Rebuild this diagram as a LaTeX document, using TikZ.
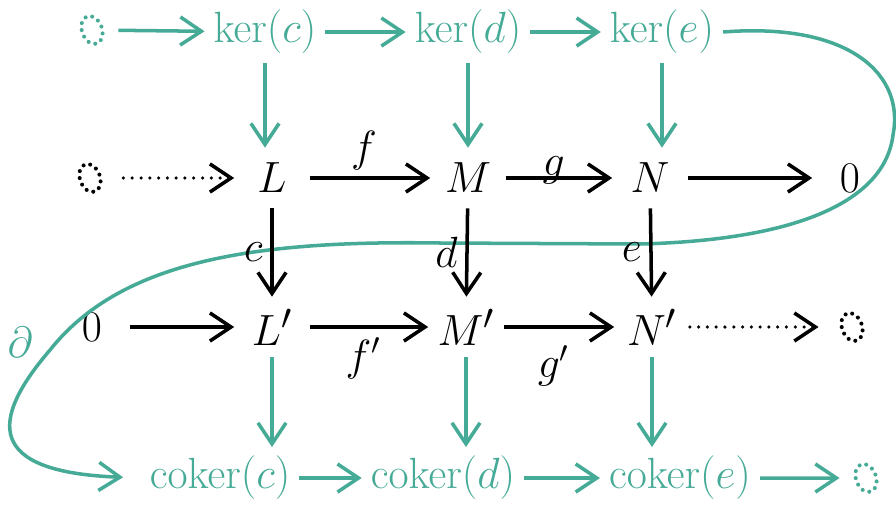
\documentclass[tikz,border=0pt]{standalone}
\usepackage{amsmath, amssymb}
\usepackage{tikz}
\usetikzlibrary{arrows.meta, shapes.geometric}

\definecolor{snakegreen}{RGB}{69,170,150}

\tikzset{
    obj/.style={minimum width=1.5cm, minimum height=1.2cm, inner sep=0pt,
        font=\fontsize{30}{36}\selectfont},
    gobj/.style={text=snakegreen, inner sep=5pt, font=\fontsize{23}{28}\selectfont},
    lbl/.style={font=\fontsize{26}{30}\selectfont},
    arr/.style={line width=2pt, -{Straight Barb[length=12pt, width=16pt]}},
    garr/.style={arr, snakegreen},
    dotarr/.style={arr, line cap=round, dash pattern=on 0pt off 5pt},
    dotzero/.style={ellipse, draw, line width=2.3pt, line cap=round,
        dash pattern=on 0pt off 4pt, minimum width=0.4cm, minimum height=0.58cm,
        inner sep=0pt, rotate=20},
}

\begin{document}
\begin{tikzpicture}[x=0.02cm, y=-0.02cm]
    \useasboundingbox (0, 0) rectangle (896, 504);

    % Kernels
    \node[dotzero, snakegreen] (kz) at (92, 30) {};
    \node[gobj] (kerc) at (265, 32) {$\ker(c)$};
    \node[gobj] (kerd) at (468, 32) {$\ker(d)$};
    \node[gobj] (kere) at (662, 32) {$\ker(e)$};

    % Top row
    \node[dotzero] (tz) at (90, 178) {};
    \node[obj] (L) at (272, 178) {$L$};
    \node[obj] (M) at (468, 178) {$M$};
    \node[obj] (N) at (650, 178) {$N$};
    \node[obj] (O) at (850, 178) {$0$};

    % Bottom row
    \node[obj] (Op) at (92, 327) {$0$};
    \node[obj] (Lp) at (272, 327) {$L'$};
    \node[obj] (Mp) at (466, 327) {$M'$};
    \node[obj] (Np) at (652, 327) {$N'$};
    \node[dotzero] (bz) at (852, 327) {};

    % Cokernels
    \node[gobj] (cokc) at (220, 478) {$\operatorname{coker}(c)$};
    \node[gobj] (cokd) at (443, 478) {$\operatorname{coker}(d)$};
    \node[gobj] (coke) at (680, 478) {$\operatorname{coker}(e)$};
    \node[dotzero, snakegreen] (cz) at (866, 478) {};

    % The snake
    \draw[garr, shorten >=10pt] (kere.east) .. controls (850, 22) and (905, 75) .. (893, 135)
        .. controls (885, 200) and (800, 240) .. (640, 244) -- (440, 243)
        .. controls (250, 240) and (120, 262) .. (50, 350)
        .. controls (-10, 420) and (-15, 472) .. (cokc.west);
    \node[snakegreen, lbl] (del) at (20, 342) {$\partial$};

    % Kernel maps
    \draw[garr, shorten <=8pt] (kz) -- (kerc);
    \draw[garr] (kerc) -- (kerd);
    \draw[garr] (kerd) -- (kere);
    \draw[garr] (kerc) -- (kerc |- L.north);
    \draw[garr] (kerd) -- (kerd |- M.north);
    \draw[garr] (kere) -- (kere |- N.north);

    % Horizontal maps
    \draw[dotarr, shorten <=12pt] (tz) -- (L);
    \draw[arr] (L) -- (M) node[lbl, pos=0.45, above] (f) {$f$};
    \draw[arr] (M) -- (N) node[lbl, pos=0.45, above=-8pt] (g) {$g$};
    \draw[arr] (N) -- (O);
    \draw[arr] (Op) -- (Lp);
    \draw[arr] (Lp) -- (Mp) node[lbl, pos=0.45, below=2pt] (fp) {$f'$};
    \draw[arr] (Mp) -- (Np) node[lbl, pos=0.45, below=6pt] (gp) {$g'$};
    \draw[dotarr, shorten >=12pt] (Np) -- (bz);

    % Vertical maps
    \draw[arr] (L) -- (Lp) node[lbl, midway, left=1pt] (c) {$c$};
    \draw[arr] (M) -- (Mp) node[lbl, midway, left=1pt] (d) {$d$};
    \draw[arr] (N) -- (Np) node[lbl, midway, left=1pt] (e) {$e$};

    % Cokernel maps
    \draw[garr] (Lp) -- (Lp |- cokc.north);
    \draw[garr] (Mp) -- (Mp |- cokd.north);
    \draw[garr] (Np) -- (Np |- coke.north);
    \draw[garr] (cokc) -- (cokd);
    \draw[garr] (cokd) -- (coke);
    \draw[garr, shorten >=8pt] (coke) -- (cz);
\end{tikzpicture}
\end{document}
